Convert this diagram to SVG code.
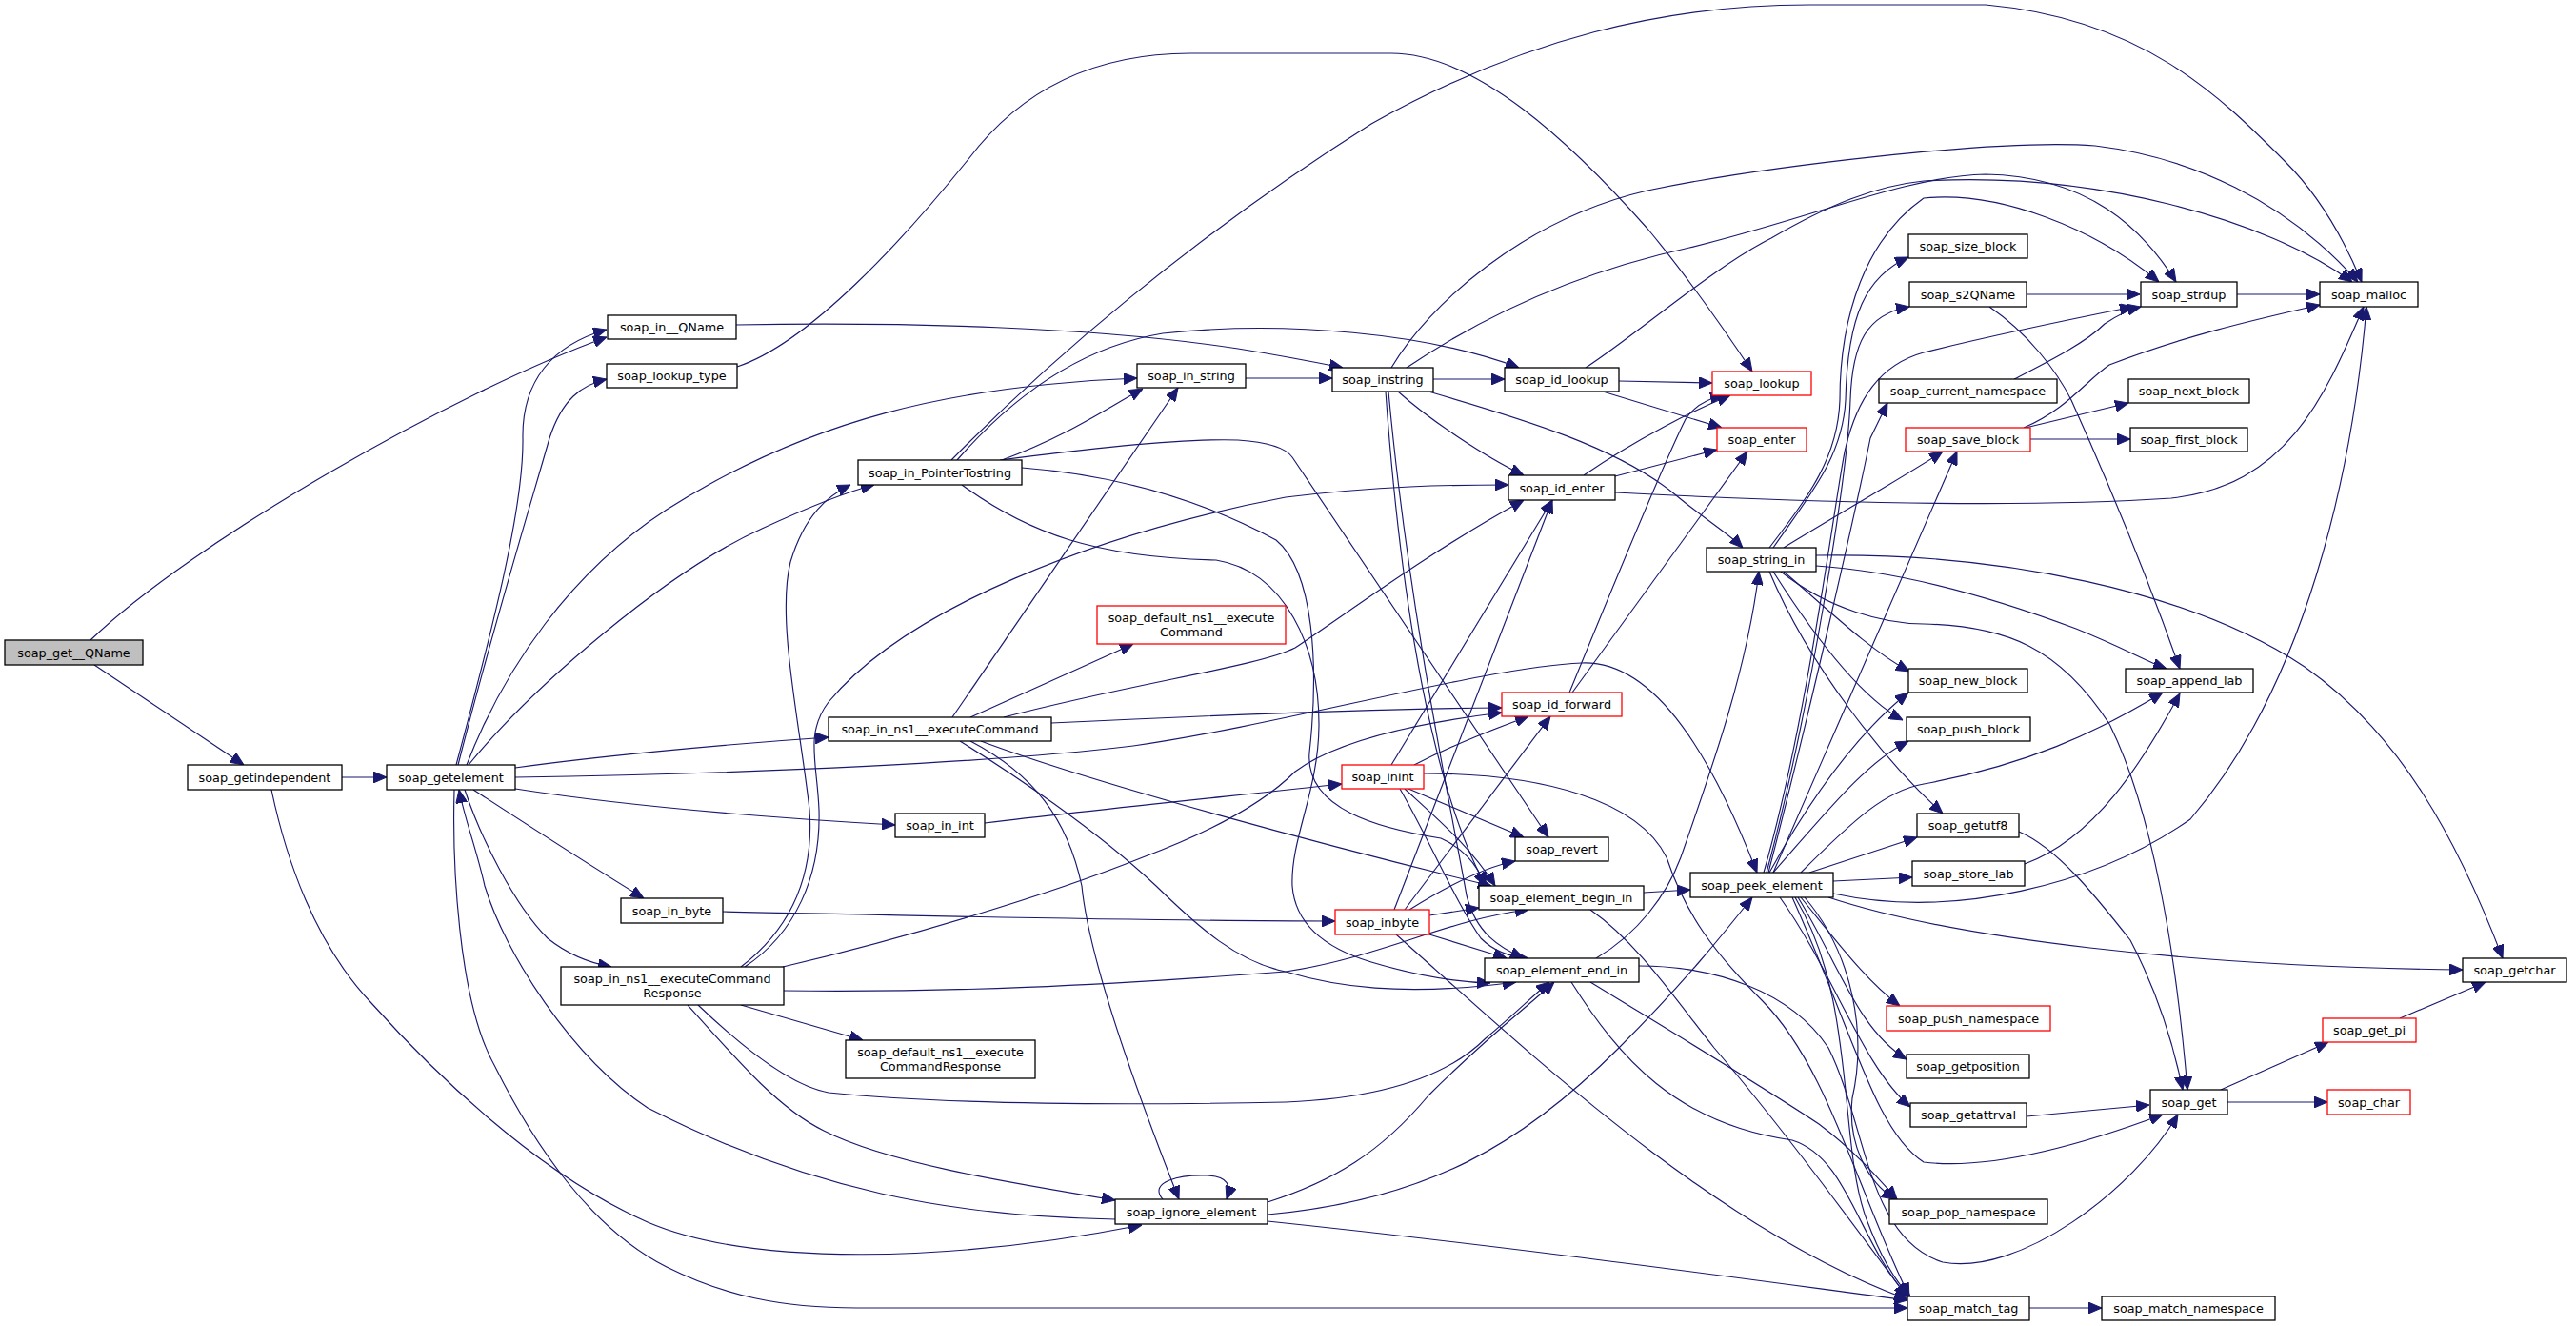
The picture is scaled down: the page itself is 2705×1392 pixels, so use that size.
<svg xmlns="http://www.w3.org/2000/svg" width="2705" height="1392" viewBox="0 0 2705 1392">
<style>
.n rect{fill:#fff;stroke:#000;stroke-width:1.3}
.n.r rect{stroke:#ff0000}
.n.g rect{fill:#bfbfbf}
.n text{font-family:"DejaVu Sans",sans-serif;font-size:12.8px;text-anchor:middle;fill:#000}
#edges path{fill:none;stroke:#191970;stroke-width:1.15;marker-end:url(#a)}
</style>
<defs>
<marker id="a" markerWidth="14" markerHeight="12" refX="14" refY="6" orient="auto" markerUnits="userSpaceOnUse"><path d="M0,0 L14,6 L0,12 z" fill="#191970" stroke="#191970"/></marker>
</defs>
<rect width="2705" height="1392" fill="#fff"/>
<g id="edges">
<path d="M95,672 C200,570 480,410 637,354"/>
<path d="M99,698 L256,803"/>
<path d="M359,816 L406,816"/>
<path d="M285,829 C300,900 330,990 390,1053 C450,1120 560,1230 680,1283 C790,1330 1000,1325 1199,1286"/>
<path d="M479,803 C520,650 550,530 549,460 C548,400 580,362 637,346"/>
<path d="M481,803 C520,650 560,520 577,460 C590,420 610,404 637,398"/>
<path d="M490,803 C530,700 600,600 700,535 C850,440 1000,405 1194,397"/>
<path d="M492,803 C560,720 700,600 800,555 C850,532 890,516 918,509"/>
<path d="M541,806 C620,795 750,782 870,774"/>
<path d="M541,828 C650,845 800,858 940,866"/>
<path d="M497,829 C560,870 630,915 676,943"/>
<path d="M488,829 C505,880 540,950 575,985 C600,1005 625,1012 642,1015"/>
<path d="M1171,1280 C1000,1277 850,1250 680,1163 C600,1110 530,1000 509,930 C500,890 488,860 482,829"/>
<path d="M477,829 C475,900 480,1050 520,1120 C560,1200 620,1290 700,1330 C760,1360 820,1373 900,1373 L2003,1373"/>
<path d="M541,816 C800,812 1050,800 1190,783 C1350,760 1560,700 1661,696 C1740,693 1800,800 1845,916"/>
<path d="M773,341 C950,338 1150,343 1300,366 C1350,374 1385,381 1410,386"/>
<path d="M774,385 C850,360 950,250 1017,167 C1060,110 1130,56 1250,56 L1461,56 C1550,56 1650,150 1730,240 C1780,300 1820,360 1840,390"/>
<path d="M999,483 C1100,380 1250,250 1440,130 C1600,40 1750,5 1900,5 L2085,5 C2250,20 2330,100 2400,170 C2440,210 2465,260 2480,296"/>
<path d="M1005,483 C1060,420 1130,365 1221,350 C1350,336 1500,350 1595,386"/>
<path d="M1052,483 C1120,458 1160,430 1200,408"/>
<path d="M1050,483 C1150,470 1250,460 1300,462 C1330,464 1350,470 1357,480 L1626,879"/>
<path d="M1073,491 C1190,500 1277,533 1340,567 C1380,600 1385,700 1375,790 C1370,850 1450,870 1513,880 C1535,890 1550,905 1560,930"/>
<path d="M1010,509 C1080,560 1150,585 1277,588 C1350,600 1385,680 1385,760 C1385,830 1355,880 1357,930 C1360,970 1390,995 1440,1010 C1490,1025 1530,1031 1565,1032"/>
<path d="M1308,397 L1399,397"/>
<path d="M1000,753 L1237,407"/>
<path d="M1019,753 L1190,676"/>
<path d="M1054,753 C1200,715 1320,700 1360,680 C1420,640 1500,580 1600,525"/>
<path d="M1104,759 C1250,752 1450,744 1577,743"/>
<path d="M1030,778 C1150,823 1400,890 1566,930"/>
<path d="M1008,778 C1060,810 1150,870 1214,930 C1260,975 1300,1010 1350,1020 C1400,1035 1470,1047 1592,1031"/>
<path d="M1019,778 C1086,813 1121,860 1136,930 C1143,1003 1190,1137 1238,1259"/>
<path d="M1034,864 C1150,850 1300,835 1409,823"/>
<path d="M759,957 C1000,962 1200,967 1402,967"/>
<path d="M778,1015 C830,975 855,920 850,850 C840,760 815,650 830,590 C845,540 870,520 893,509"/>
<path d="M782,1015 C835,980 862,920 860,850 C858,800 845,770 870,737 C950,640 1150,560 1350,522 C1450,510 1520,509 1584,509"/>
<path d="M822,1015 C950,985 1100,940 1200,900 C1280,870 1330,840 1360,810 C1400,780 1480,760 1577,748"/>
<path d="M778,1055 L906,1092"/>
<path d="M823,1040 C1000,1042 1150,1035 1350,1020 C1450,1005 1520,965 1605,955"/>
<path d="M733,1055 C780,1100 830,1140 870,1147 C1000,1160 1200,1160 1350,1157 C1450,1153 1520,1130 1560,1090 C1590,1065 1610,1045 1627,1031"/>
<path d="M722,1055 C780,1120 820,1165 865,1187 C930,1220 1050,1240 1171,1260"/>
<path d="M1221,1259 C1205,1240 1240,1233 1268,1234 C1290,1235 1293,1245 1288,1259"/>
<path d="M1331,1262 C1400,1240 1450,1210 1500,1150 C1560,1090 1600,1060 1632,1031"/>
<path d="M1331,1275 C1500,1260 1600,1200 1700,1100 C1770,1030 1810,980 1840,942"/>
<path d="M1331,1282 C1600,1310 1850,1345 2003,1365"/>
<path d="M1505,398 L1580,398"/>
<path d="M1461,386 C1500,320 1600,230 1730,200 C1850,175 2100,145 2200,153 C2300,165 2400,210 2476,296"/>
<path d="M1477,386 C1560,330 1660,285 1774,260 C1900,230 2000,185 2085,183 C2193,185 2250,240 2285,296"/>
<path d="M1468,411 C1500,440 1560,480 1600,499"/>
<path d="M1500,411 C1600,440 1700,470 1760,520 C1790,545 1815,560 1830,575"/>
<path d="M1455,411 C1465,550 1490,800 1560,930"/>
<path d="M1458,411 C1480,650 1530,880 1540,940 C1550,980 1575,995 1600,1006"/>
<path d="M1700,400 L1798,402"/>
<path d="M1683,411 L1808,449"/>
<path d="M1665,386 C1720,350 1800,280 1860,250 C1920,215 1970,195 2020,190 C2200,180 2380,230 2470,296"/>
<path d="M1663,499 C1720,460 1780,430 1817,415"/>
<path d="M1696,500 L1803,472"/>
<path d="M1696,517 C1850,525 2100,535 2280,523 C2400,510 2440,420 2482,322"/>
<path d="M1648,727 C1700,600 1750,480 1770,440 C1780,425 1795,418 1810,415"/>
<path d="M1651,727 L1835,474"/>
<path d="M1461,803 L1630,525"/>
<path d="M1485,803 C1530,780 1570,765 1605,752"/>
<path d="M1479,828 L1600,879"/>
<path d="M1475,828 C1510,860 1545,890 1570,930"/>
<path d="M1470,828 C1500,880 1530,950 1555,985 C1570,1000 1590,1005 1605,1006"/>
<path d="M1495,812 C1620,812 1720,840 1750,900 C1770,960 1800,1000 1850,1050 C1920,1120 1950,1250 2005,1361"/>
<path d="M1464,955 L1630,525"/>
<path d="M1475,955 L1628,752"/>
<path d="M1480,955 C1520,930 1560,910 1591,904"/>
<path d="M1501,961 L1553,953"/>
<path d="M1501,981 L1582,1006"/>
<path d="M1466,981 C1600,1100 1800,1290 2003,1364"/>
<path d="M1726,937 L1775,934"/>
<path d="M1670,955 C1720,990 1760,1050 1800,1100 C1860,1170 1920,1250 2003,1362"/>
<path d="M1676,1006 C1720,980 1750,940 1765,900 C1800,800 1835,700 1847,600"/>
<path d="M1650,1031 C1700,1110 1760,1180 1882,1197 C1940,1215 1950,1300 2003,1361"/>
<path d="M1670,1031 C1750,1080 1850,1140 1910,1180 C1950,1210 1975,1240 1992,1259"/>
<path d="M1721,1014 C1800,1014 1880,1040 1920,1100 C1960,1180 1960,1300 2040,1325 C2120,1340 2240,1250 2287,1170"/>
<path d="M1855,916 C1900,750 1940,500 1943,420 C1945,360 1960,330 2005,322"/>
<path d="M1852,916 C1900,750 1930,500 1938,470 C1950,420 1973,383 2020,370 C2100,350 2200,330 2240,322"/>
<path d="M1857,916 C1900,750 1950,530 1964,460 L1982,423"/>
<path d="M1862,916 C1930,760 2010,580 2055,474"/>
<path d="M1858,916 C1900,840 1950,770 2004,727"/>
<path d="M1862,916 C1920,850 1960,800 2004,778"/>
<path d="M1900,916 C1950,900 1980,890 2013,879"/>
<path d="M1925,925 L2008,921"/>
<path d="M1891,916 C1947,860 1980,830 2020,823 C2128,803 2200,770 2271,727"/>
<path d="M1925,938 C2050,965 2200,930 2300,860 C2420,720 2470,500 2485,322"/>
<path d="M1920,942 C2050,985 2300,1015 2586,1018"/>
<path d="M1891,942 C1930,990 1960,1030 1995,1056"/>
<path d="M1888,942 C1930,1010 1950,1080 2002,1112"/>
<path d="M1869,942 C1925,1020 1956,1120 2006,1162"/>
<path d="M1882,942 C1947,1087 1969,1187 2020,1220 C2085,1228 2172,1207 2271,1170"/>
<path d="M1895,942 C1947,1003 1960,1087 1945,1153 C1940,1200 1960,1240 1990,1259"/>
<path d="M1885,942 C1950,1050 1930,1200 1960,1280 C1975,1320 1990,1345 2006,1361"/>
<path d="M1907,583 C2100,580 2300,620 2420,700 C2520,770 2580,880 2628,1006"/>
<path d="M1907,594 C2000,600 2100,630 2180,660 C2230,680 2255,695 2275,702"/>
<path d="M1870,600 C1920,640 1980,655 2020,655 C2107,657 2163,680 2215,760 C2260,850 2285,1000 2297,1144"/>
<path d="M1873,575 C1930,540 2000,500 2040,474"/>
<path d="M1873,600 C1920,640 1960,680 2005,705"/>
<path d="M1862,600 C1900,660 1950,730 1998,756"/>
<path d="M1858,600 C1900,700 1980,800 2040,854"/>
<path d="M1862,575 C1900,520 1935,480 1938,420 C1940,330 1960,290 2004,270"/>
<path d="M1858,575 C1900,520 1930,480 1932,420 C1932,330 1960,250 2020,208 C2100,200 2200,240 2267,296"/>
<path d="M2128,1172 L2257,1160"/>
<path d="M2120,873 C2160,890 2200,940 2237,987 C2270,1050 2285,1110 2292,1144"/>
<path d="M2126,907 C2200,880 2250,800 2289,728"/>
<path d="M2128,309 L2247,309"/>
<path d="M2089,322 C2130,350 2160,390 2175,420 C2220,520 2260,620 2289,702"/>
<path d="M2115,398 C2150,380 2190,360 2210,340 C2225,330 2235,325 2248,322"/>
<path d="M2349,309 L2436,309"/>
<path d="M2127,449 L2235,423"/>
<path d="M2132,461 L2237,461"/>
<path d="M2125,449 C2170,430 2190,400 2215,383 C2300,350 2380,333 2436,320"/>
<path d="M2332,1144 L2445,1094"/>
<path d="M2339,1157 L2444,1157"/>
<path d="M2520,1069 L2610,1031"/>
<path d="M2131,1373 L2207,1373"/>
</g>
<g id="soap_get__QName" class="n g"><rect x="5" y="672" width="145" height="26"/><text x="77.5" y="689.5">soap_get__QName</text></g>
<g id="soap_in__QName" class="n"><rect x="638" y="331" width="135" height="25"/><text x="705.5" y="348">soap_in__QName</text></g>
<g id="soap_getindependent" class="n"><rect x="197" y="803" width="162" height="26"/><text x="278" y="820.5">soap_getindependent</text></g>
<g id="soap_getelement" class="n"><rect x="406" y="803" width="135" height="26"/><text x="473.5" y="820.5">soap_getelement</text></g>
<g id="soap_lookup_type" class="n"><rect x="637" y="382" width="137" height="25"/><text x="705.5" y="399">soap_lookup_type</text></g>
<g id="soap_in_string" class="n"><rect x="1194" y="382" width="114" height="25"/><text x="1251" y="399">soap_in_string</text></g>
<g id="soap_in_PointerTostring" class="n"><rect x="901" y="483" width="172" height="26"/><text x="987" y="500.5">soap_in_PointerTostring</text></g>
<g id="soap_default_ns1__executeCommand" class="n r"><rect x="1152" y="636" width="198" height="40"/><text x="1251" y="653">soap_default_ns1__execute</text><text x="1251" y="667.5">Command</text></g>
<g id="soap_in_ns1__executeCommand" class="n"><rect x="870" y="753" width="234" height="25"/><text x="987" y="770">soap_in_ns1__executeCommand</text></g>
<g id="soap_in_int" class="n"><rect x="940" y="854" width="94" height="25"/><text x="987" y="871">soap_in_int</text></g>
<g id="soap_in_byte" class="n"><rect x="652" y="943" width="107" height="26"/><text x="705.5" y="960.5">soap_in_byte</text></g>
<g id="soap_in_ns1__executeCommandResponse" class="n"><rect x="589" y="1015" width="234" height="40"/><text x="706" y="1032">soap_in_ns1__executeCommand</text><text x="706" y="1046.5">Response</text></g>
<g id="soap_default_ns1__executeCommandResponse" class="n"><rect x="888" y="1092" width="199" height="40"/><text x="987.5" y="1109">soap_default_ns1__execute</text><text x="987.5" y="1123.5">CommandResponse</text></g>
<g id="soap_ignore_element" class="n"><rect x="1171" y="1259" width="160" height="26"/><text x="1251" y="1276.5">soap_ignore_element</text></g>
<g id="soap_instring" class="n"><rect x="1399" y="386" width="106" height="25"/><text x="1452" y="403">soap_instring</text></g>
<g id="soap_id_lookup" class="n"><rect x="1580" y="386" width="120" height="25"/><text x="1640" y="403">soap_id_lookup</text></g>
<g id="soap_lookup" class="n r"><rect x="1798" y="390" width="104" height="25"/><text x="1850" y="407">soap_lookup</text></g>
<g id="soap_enter" class="n r"><rect x="1803" y="449" width="94" height="25"/><text x="1850" y="466">soap_enter</text></g>
<g id="soap_id_enter" class="n"><rect x="1584" y="499" width="112" height="26"/><text x="1640" y="516.5">soap_id_enter</text></g>
<g id="soap_string_in" class="n"><rect x="1792" y="575" width="115" height="25"/><text x="1849.5" y="592">soap_string_in</text></g>
<g id="soap_id_forward" class="n r"><rect x="1577" y="727" width="126" height="25"/><text x="1640" y="744">soap_id_forward</text></g>
<g id="soap_inint" class="n r"><rect x="1409" y="803" width="86" height="25"/><text x="1452" y="820">soap_inint</text></g>
<g id="soap_revert" class="n"><rect x="1591" y="879" width="98" height="25"/><text x="1640" y="896">soap_revert</text></g>
<g id="soap_element_begin_in" class="n"><rect x="1553" y="930" width="173" height="25"/><text x="1639.5" y="947">soap_element_begin_in</text></g>
<g id="soap_inbyte" class="n r"><rect x="1402" y="955" width="99" height="26"/><text x="1451.5" y="972.5">soap_inbyte</text></g>
<g id="soap_element_end_in" class="n"><rect x="1559" y="1006" width="162" height="25"/><text x="1640" y="1023">soap_element_end_in</text></g>
<g id="soap_peek_element" class="n"><rect x="1775" y="916" width="150" height="26"/><text x="1850" y="933.5">soap_peek_element</text></g>
<g id="soap_size_block" class="n"><rect x="2004" y="246" width="125" height="25"/><text x="2066.5" y="263">soap_size_block</text></g>
<g id="soap_s2QName" class="n"><rect x="2005" y="296" width="123" height="26"/><text x="2066.5" y="313.5">soap_s2QName</text></g>
<g id="soap_strdup" class="n"><rect x="2248" y="296" width="101" height="26"/><text x="2298.5" y="313.5">soap_strdup</text></g>
<g id="soap_malloc" class="n"><rect x="2436" y="296" width="103" height="26"/><text x="2487.5" y="313.5">soap_malloc</text></g>
<g id="soap_current_namespace" class="n"><rect x="1973" y="398" width="187" height="25"/><text x="2066.5" y="415">soap_current_namespace</text></g>
<g id="soap_next_block" class="n"><rect x="2235" y="398" width="127" height="25"/><text x="2298.5" y="415">soap_next_block</text></g>
<g id="soap_save_block" class="n r"><rect x="2001" y="449" width="131" height="25"/><text x="2066.5" y="466">soap_save_block</text></g>
<g id="soap_first_block" class="n"><rect x="2237" y="449" width="123" height="25"/><text x="2298.5" y="466">soap_first_block</text></g>
<g id="soap_append_lab" class="n"><rect x="2232" y="702" width="134" height="25"/><text x="2299" y="719">soap_append_lab</text></g>
<g id="soap_new_block" class="n"><rect x="2004" y="702" width="125" height="25"/><text x="2066.5" y="719">soap_new_block</text></g>
<g id="soap_push_block" class="n"><rect x="2002" y="753" width="130" height="25"/><text x="2067" y="770">soap_push_block</text></g>
<g id="soap_getutf8" class="n"><rect x="2013" y="854" width="107" height="25"/><text x="2066.5" y="871">soap_getutf8</text></g>
<g id="soap_store_lab" class="n"><rect x="2008" y="904" width="118" height="26"/><text x="2067" y="921.5">soap_store_lab</text></g>
<g id="soap_getchar" class="n"><rect x="2586" y="1006" width="109" height="25"/><text x="2640.5" y="1023">soap_getchar</text></g>
<g id="soap_push_namespace" class="n r"><rect x="1981" y="1056" width="172" height="26"/><text x="2067" y="1073.5">soap_push_namespace</text></g>
<g id="soap_getposition" class="n"><rect x="2002" y="1107" width="129" height="25"/><text x="2066.5" y="1124">soap_getposition</text></g>
<g id="soap_getattrval" class="n"><rect x="2006" y="1158" width="122" height="25"/><text x="2067" y="1175">soap_getattrval</text></g>
<g id="soap_get" class="n"><rect x="2258" y="1144" width="81" height="26"/><text x="2298.5" y="1161.5">soap_get</text></g>
<g id="soap_get_pi" class="n r"><rect x="2439" y="1069" width="98" height="25"/><text x="2488" y="1086">soap_get_pi</text></g>
<g id="soap_char" class="n r"><rect x="2444" y="1144" width="87" height="26"/><text x="2487.5" y="1161.5">soap_char</text></g>
<g id="soap_pop_namespace" class="n"><rect x="1984" y="1259" width="166" height="26"/><text x="2067" y="1276.5">soap_pop_namespace</text></g>
<g id="soap_match_tag" class="n"><rect x="2003" y="1361" width="128" height="25"/><text x="2067" y="1378">soap_match_tag</text></g>
<g id="soap_match_namespace" class="n"><rect x="2207" y="1361" width="182" height="25"/><text x="2298" y="1378">soap_match_namespace</text></g>
</svg>
